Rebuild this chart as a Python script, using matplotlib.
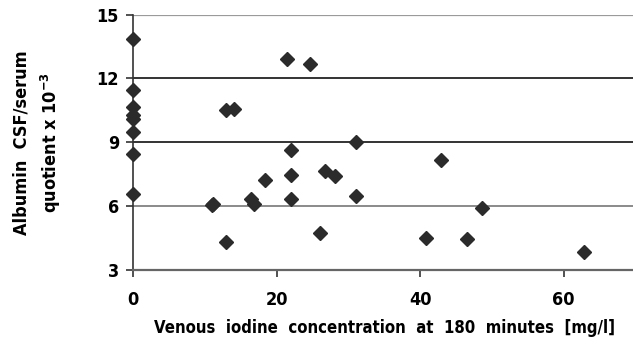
import numpy as np
import matplotlib.pyplot as plt

##### Data #####
iodine = [0, 0, 0, 0, 0, 0, 0, 0,
          11.0, 11.2, 12.9, 12.9, 14.1, 16.4, 16.8, 18.4,
          21.5, 22.0, 22.0, 22.0, 24.6, 26.0, 26.8, 28.1,
          31.1, 31.0, 40.8, 42.9, 46.5, 48.6, 62.8]
quotient = [13.85, 11.44, 10.67, 10.28, 10.09, 9.49, 8.43, 6.58,
            6.04, 6.08, 4.31, 10.51, 10.57, 6.35, 6.08, 7.21,
            12.9, 8.62, 7.45, 6.32, 12.67, 4.75, 7.65, 7.41,
            9.0, 6.47, 4.5, 8.16, 4.44, 5.93, 3.83]
y_ticks = [3, 6, 9, 12, 15]
x_ticks = [0, 20, 40, 60]

##### Fonts: condensed bold face #####
plt.rcParams['font.family'] = ['DejaVu Sans']
plt.rcParams['font.stretch'] = 'condensed'
plt.rcParams['font.weight'] = 'bold'
plt.rcParams['mathtext.default'] = 'bf'

fig = plt.figure(figsize=(6.33, 3.48), dpi=100)
ax = fig.add_axes([0.21, 0.224, 0.794, 0.734])

# horizontal grid lines, colours as in the reference
grid_colors = {15: '#9a9a9a', 12: '#111111', 9: '#111111', 6: '#777777'}
for yv, c in grid_colors.items():
    ax.axhline(yv, color=c, lw=1.6 if yv == 15 else 1.2, zorder=1)

ax.plot(iodine, quotient, linestyle='none', marker='D', markersize=7,
        color='#2b2b2b', zorder=3, clip_on=False)

ax.set_xlim(0, 70)
ax.set_ylim(3, 15)
ax.set_xticks(x_ticks)
ax.set_yticks(y_ticks)
ax.tick_params(axis='both', direction='out', length=5, width=1.2,
               labelsize=13, color='#333333', pad=5)
ax.tick_params(axis='x', pad=10)

for side in ['top', 'right']:
    ax.spines[side].set_visible(False)
ax.spines['left'].set_color('#333333')
ax.spines['left'].set_linewidth(1.2)
ax.spines['bottom'].set_color('#666666')
ax.spines['bottom'].set_linewidth(1.6)

ax.set_xlabel('Venous  iodine  concentration  at  180  minutes  [mg/l]',
              fontsize=12, fontweight='bold', labelpad=7)
ax.set_ylabel('Albumin  CSF/serum\nquotient x 10$^{-3}$',
              fontsize=13, fontweight='bold', labelpad=24, linespacing=1.45)

fig.savefig('out.png', dpi=100)
